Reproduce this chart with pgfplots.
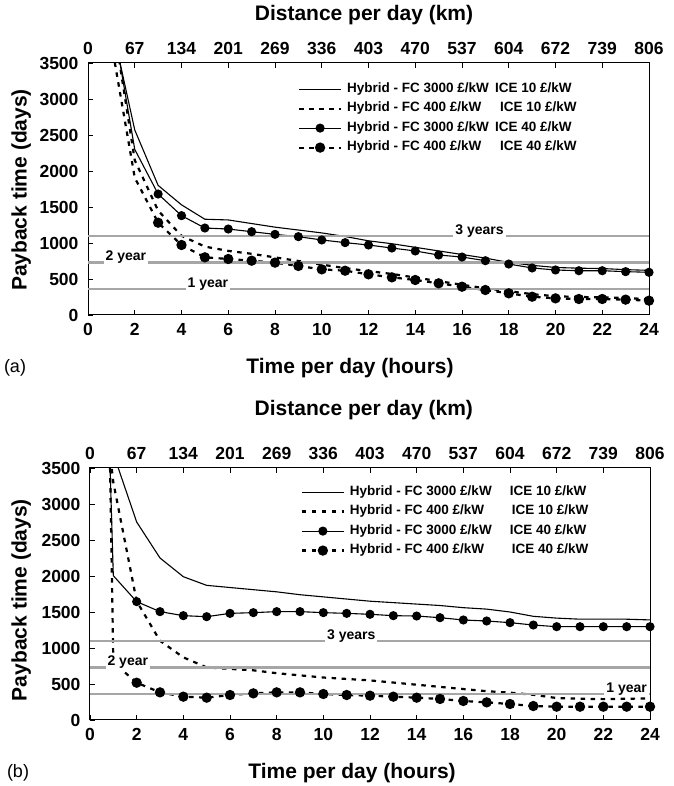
\documentclass[border=0pt]{standalone}
\usepackage{fontspec}
\setmainfont{Liberation Sans}
\usepackage{pgfplots}
\usepackage{pgfplotstable}
\pgfplotsset{compat=1.18}

% payback time (days) against hours per day
\pgfplotstableread{
hr s1 s2 s3 s4
1 4050 4230 4200 3780
2 2570 2150 2300 1907
3 1800 1450 1680 1282
4 1530 1100 1380 972
5 1330 950 1208 801
6 1320 890 1194 778
7 1270 850 1157 754
8 1220 800 1120 727
9 1180 750 1088 681
10 1140 700 1042 634
11 1090 650 1005 615
12 1030 610 972 565
13 990 570 930 523
14 940 520 889 486
15 890 470 833 440
16 840 420 805 393
17 790 370 754 347
18 730 330 708 301
19 690 290 653 254
20 660 260 625 231
21 650 250 615 222
22 645 245 615 222
23 630 235 602 213
24 620 220 593 199
}\dataA

\pgfplotstableread{
hr s1 s2 s3 s4
0.5 6000 4729 7357 10443
1 3700 3300 2004 800
2 2750 1650 1644 518
3 2250 1100 1505 384
4 1990 870 1449 324
5 1870 730 1435 310
6 1840 710 1481 347
7 1810 690 1491 370
8 1780 650 1505 384
9 1740 620 1505 384
10 1710 590 1491 361
11 1680 570 1481 347
12 1650 550 1468 338
13 1630 520 1449 324
14 1610 490 1444 310
15 1590 460 1421 292
16 1560 430 1389 264
17 1540 400 1375 245
18 1500 380 1352 222
19 1440 350 1319 194
20 1415 305 1296 185
21 1400 295 1296 185
22 1400 290 1296 185
23 1400 295 1296 185
24 1390 300 1296 185
}\dataB

\tikzset{
    yearlabel/.style={fill=white, inner sep=2pt, font=\fontsize{14}{14}\selectfont\bfseries, yshift=5pt},
}
\pgfplotsset{
    payback/.style={
        scale only axis, width=561pt, height=252pt,
        xmin=0, xmax=24, ymin=0, ymax=3500,
        xtick={0,2,...,24}, ytick={0,500,...,3500},
        tick pos=left, tick align=inside, major tick length=5pt,
        axis line style={line width=1pt},
        tick style={line width=0.9pt, black},
        tick label style={font=\fontsize{17.5}{17.5}\selectfont\bfseries},
        /pgf/number format/assume math mode=true,
        /pgf/number format/1000 sep={},
        xticklabel style={yshift=-5pt}, yticklabel style={xshift=-6pt},
        label style={font=\fontsize{21}{21}\selectfont\bfseries},
        legend cell align=left,
        legend style={draw=none, fill=none, inner sep=0pt, row sep=7pt, column sep=5pt,
            font=\fontsize{13.5}{13.5}\selectfont\bfseries,
            nodes={inner sep=0pt, text height=9.5pt, text depth=3pt}},
        legend image code/.code={\draw[##1, mark repeat=2, mark phase=2]
            plot coordinates {(0pt,0pt) (21pt,0pt) (42pt,0pt)};},
    },
    topkm/.style={
        scale only axis, width=561pt, height=252pt,
        xmin=0, xmax=24, ymin=0, ymax=1,
        axis x line*=top, axis y line=none,
        tick align=inside, major tick length=5pt,
        axis line style={line width=1pt, -},
        tick style={line width=0.9pt, black},
        xtick={0,2,...,24},
        xticklabels={0,67,134,201,269,336,403,470,537,604,672,739,806},
        tick label style={font=\fontsize{17.5}{17.5}\selectfont\bfseries},
        xticklabel style={yshift=5pt},
        label style={font=\fontsize{21}{21}\selectfont\bfseries},
    },
    fcA/.style={black, line width=1.1pt},
    fcB/.style={black, line width=2.2pt, dash pattern=on 4.5pt off 5.5pt},
    fcC/.style={black, line width=1.1pt, mark=*, mark size=4pt, mark repeat=1, mark phase=2, mark options={solid}},
    fcD/.style={black, line width=2.2pt, dash pattern=on 4.5pt off 5.5pt, mark=*, mark size=4pt, mark repeat=1, mark phase=2, mark options={solid}},
    yearline/.style={black!35, line width=2.4pt, forget plot},
}

\begin{document}
\begin{tikzpicture}
\useasboundingbox (0,0) rectangle (673pt,786pt);

% ---------- (a) ----------
\begin{axis}[payback, at={(88pt,471pt)}, anchor=south west,
    xlabel={Time per day (hours)},
    xlabel style={at={(axis description cs:0.467,-0.21)}, anchor=center},
    ylabel={Payback time (days)},
    ylabel style={at={(axis description cs:-0.119,0.496)}, anchor=center},
    legend style={at={(axis description cs:0.374,0.922)}, anchor=north west},
]
\addplot[fcA] table[x=hr, y=s1] {\dataA};
\addlegendentry{\makebox[148pt][l]{Hybrid - FC 3000 £/kW}ICE 10 £/kW}
\addplot[fcB] table[x=hr, y=s2] {\dataA};
\addlegendentry{\makebox[153pt][l]{Hybrid - FC 400 £/kW}ICE 10 £/kW}
\addplot[fcC] table[x=hr, y=s3] {\dataA};
\addlegendentry{\makebox[148pt][l]{Hybrid - FC 3000 £/kW}ICE 40 £/kW}
\addplot[fcD] table[x=hr, y=s4] {\dataA};
\addlegendentry{\makebox[153pt][l]{Hybrid - FC 400 £/kW}ICE 40 £/kW}
\addplot[yearline] coordinates {(0,365) (24,365)};
\addplot[yearline] coordinates {(0,730) (24,730)};
\addplot[yearline] coordinates {(0,1095) (24,1095)};
\node[yearlabel] at (axis cs:16.75,1095) {3 years};
\node[yearlabel] at (axis cs:1.62,730) {2 year};
\node[yearlabel] at (axis cs:5.13,365) {1 year};
\end{axis}
\begin{axis}[topkm, at={(88pt,471pt)}, anchor=south west,
    xlabel={Distance per day (km)},
    xlabel style={at={(axis description cs:0.492,1.19)}, anchor=center},
]
\end{axis}
\node[font=\fontsize{18}{18}\selectfont] at (15pt,418pt) {(a)};

% ---------- (b) ----------
\begin{axis}[payback, at={(90pt,66pt)}, anchor=south west, width=560pt,
    xlabel={Time per day (hours)},
    xlabel style={at={(axis description cs:0.468,-0.21)}, anchor=center},
    ylabel={Payback time (days)},
    ylabel style={at={(axis description cs:-0.123,0.476)}, anchor=center},
    legend style={at={(axis description cs:0.376,0.93)}, anchor=north west},
]
\addplot[fcA] table[x=hr, y=s1] {\dataB};
\addlegendentry{\makebox[160pt][l]{Hybrid - FC 3000 £/kW}ICE 10 £/kW}
\addplot[fcB] table[x=hr, y=s2] {\dataB};
\addlegendentry{\makebox[162pt][l]{Hybrid - FC 400 £/kW}ICE 10 £/kW}
\addplot[fcC] table[x=hr, y=s3] {\dataB};
\addlegendentry{\makebox[160pt][l]{Hybrid - FC 3000 £/kW}ICE 40 £/kW}
\addplot[fcD] table[x=hr, y=s4] {\dataB};
\addlegendentry{\makebox[162pt][l]{Hybrid - FC 400 £/kW}ICE 40 £/kW}
\addplot[yearline] coordinates {(0,365) (24,365)};
\addplot[yearline] coordinates {(0,730) (24,730)};
\addplot[yearline] coordinates {(0,1095) (24,1095)};
\node[yearlabel] at (axis cs:11.2,1095) {3 years};
\node[yearlabel] at (axis cs:1.62,730) {2 year};
\node[yearlabel] at (axis cs:23.0,365) {1 year};
\end{axis}
\begin{axis}[topkm, at={(90pt,66pt)}, anchor=south west, width=560pt,
    xlabel={Distance per day (km)},
    xlabel style={at={(axis description cs:0.489,1.23)}, anchor=center},
]
\end{axis}
\node[font=\fontsize{18}{18}\selectfont] at (18pt,13pt) {(b)};
\end{tikzpicture}
\end{document}
